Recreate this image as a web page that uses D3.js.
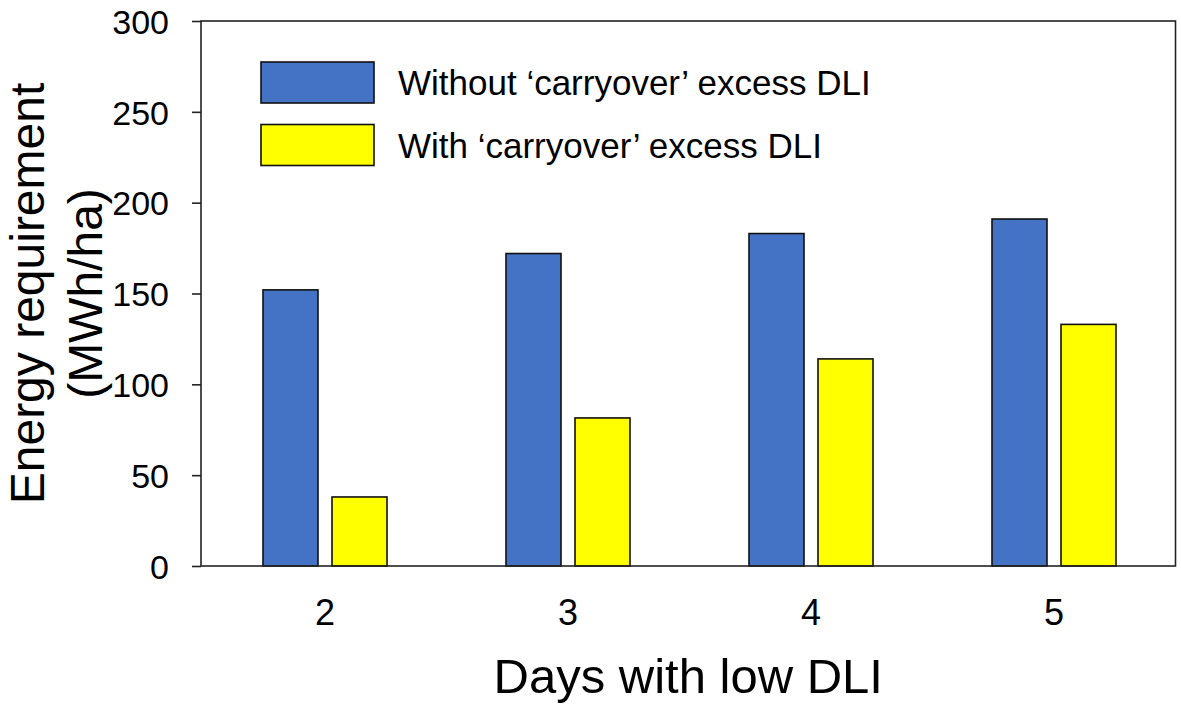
<!DOCTYPE html>
<html>
<head>
<meta charset="utf-8">
<script src="https://cdn.jsdelivr.net/npm/d3@7"></script>
<style>
  body { margin: 0; background: #fff; }
  text { font-family: "Liberation Sans", Arial, sans-serif; fill: #000; }
</style>
</head>
<body>
<svg id="chart"></svg>
<script>
const width = 1181;
const height = 705;

// data
const days = ["2", "3", "4", "5"];
const seriesNames = ["Without \u2018carryover\u2019 excess DLI", "With \u2018carryover\u2019 excess DLI"];
const withoutCarryover = [152, 172, 183, 191];
const withCarryover = [38, 81.5, 114, 133];
const yTicks = [0, 50, 100, 150, 200, 250, 300];
const colors = ["#4472C4", "#FFFF00"];

const plot = { left: 201, right: 1175.5, top: 21, bottom: 566 };

const svg = d3.select("#chart")
  .attr("width", width)
  .attr("height", height);

const x = d3.scaleBand()
  .domain(days)
  .range([203.5, 1175.5]);

const x1 = d3.scaleBand()
  .domain([0, 1])
  .range([x.bandwidth() / 2 - 62, x.bandwidth() / 2 + 62])
  .paddingInner(0.203);

const y = d3.scaleLinear()
  .domain([0, 300])
  .range([plot.bottom, plot.top]);

const rows = days.map((d, i) => ({ day: d, values: [withoutCarryover[i], withCarryover[i]] }));

// bars
const groups = svg.selectAll("g.day")
  .data(rows)
  .enter()
  .append("g")
  .attr("class", "day")
  .attr("transform", d => `translate(${x(d.day)},0)`);

groups.selectAll("rect")
  .data(d => d.values.map((v, k) => ({ k, v })))
  .enter()
  .append("rect")
  .attr("x", d => x1(d.k))
  .attr("width", x1.bandwidth())
  .attr("y", d => y(d.v))
  .attr("height", d => y(0) - y(d.v))
  .attr("fill", d => colors[d.k])
  .attr("stroke", "#111")
  .attr("stroke-width", 1.6);

// frame
svg.append("rect")
  .attr("x", plot.left)
  .attr("y", plot.top)
  .attr("width", plot.right - plot.left)
  .attr("height", plot.bottom - plot.top)
  .attr("fill", "none")
  .attr("stroke", "#222")
  .attr("stroke-width", 1.6);

// y axis
const yAxis = svg.append("g")
  .attr("transform", `translate(${plot.left},0)`)
  .call(d3.axisLeft(y).tickValues(yTicks).tickSize(9).tickPadding(23));
yAxis.select(".domain").remove();
yAxis.selectAll(".tick line").attr("stroke", "#222").attr("stroke-width", 1.6);
yAxis.selectAll(".tick text")
  .style("font-family", "'Liberation Sans', Arial, sans-serif")
  .style("font-size", "34px")
  .attr("dy", "0.36em");

// x axis
const xAxis = svg.append("g")
  .attr("transform", `translate(0,${plot.bottom})`)
  .call(d3.axisBottom(x).tickSize(0));
xAxis.select(".domain").remove();
xAxis.selectAll(".tick text")
  .style("font-family", "'Liberation Sans', Arial, sans-serif")
  .style("font-size", "36px")
  .attr("y", 59)
  .attr("dy", 0);

// axis titles
svg.append("text")
  .attr("x", (plot.left + plot.right) / 2)
  .attr("y", 693)
  .attr("text-anchor", "middle")
  .style("font-size", "49px")
  .text("Days with low DLI");

const yTitle = svg.append("text")
  .attr("transform", `translate(0,${(plot.top + plot.bottom) / 2}) rotate(-90)`)
  .attr("text-anchor", "middle")
  .style("font-size", "48px");
yTitle.append("tspan").attr("x", 0).attr("y", 44).text("Energy requirement");
yTitle.append("tspan").attr("x", 0).attr("y", 102).text("(MWh/ha)");

// legend
const legendY = [62, 124.5];
const legend = svg.selectAll("g.legend")
  .data(seriesNames)
  .enter()
  .append("g")
  .attr("class", "legend")
  .attr("transform", (d, i) => `translate(261,${legendY[i]})`);

legend.append("rect")
  .attr("width", 113)
  .attr("height", 41)
  .attr("fill", (d, i) => colors[i])
  .attr("stroke", "#111")
  .attr("stroke-width", 1.6);

legend.append("text")
  .attr("x", 137)
  .attr("y", 33)
  .style("font-size", "35px")
  .text(d => d);
</script>
</body>
</html>
